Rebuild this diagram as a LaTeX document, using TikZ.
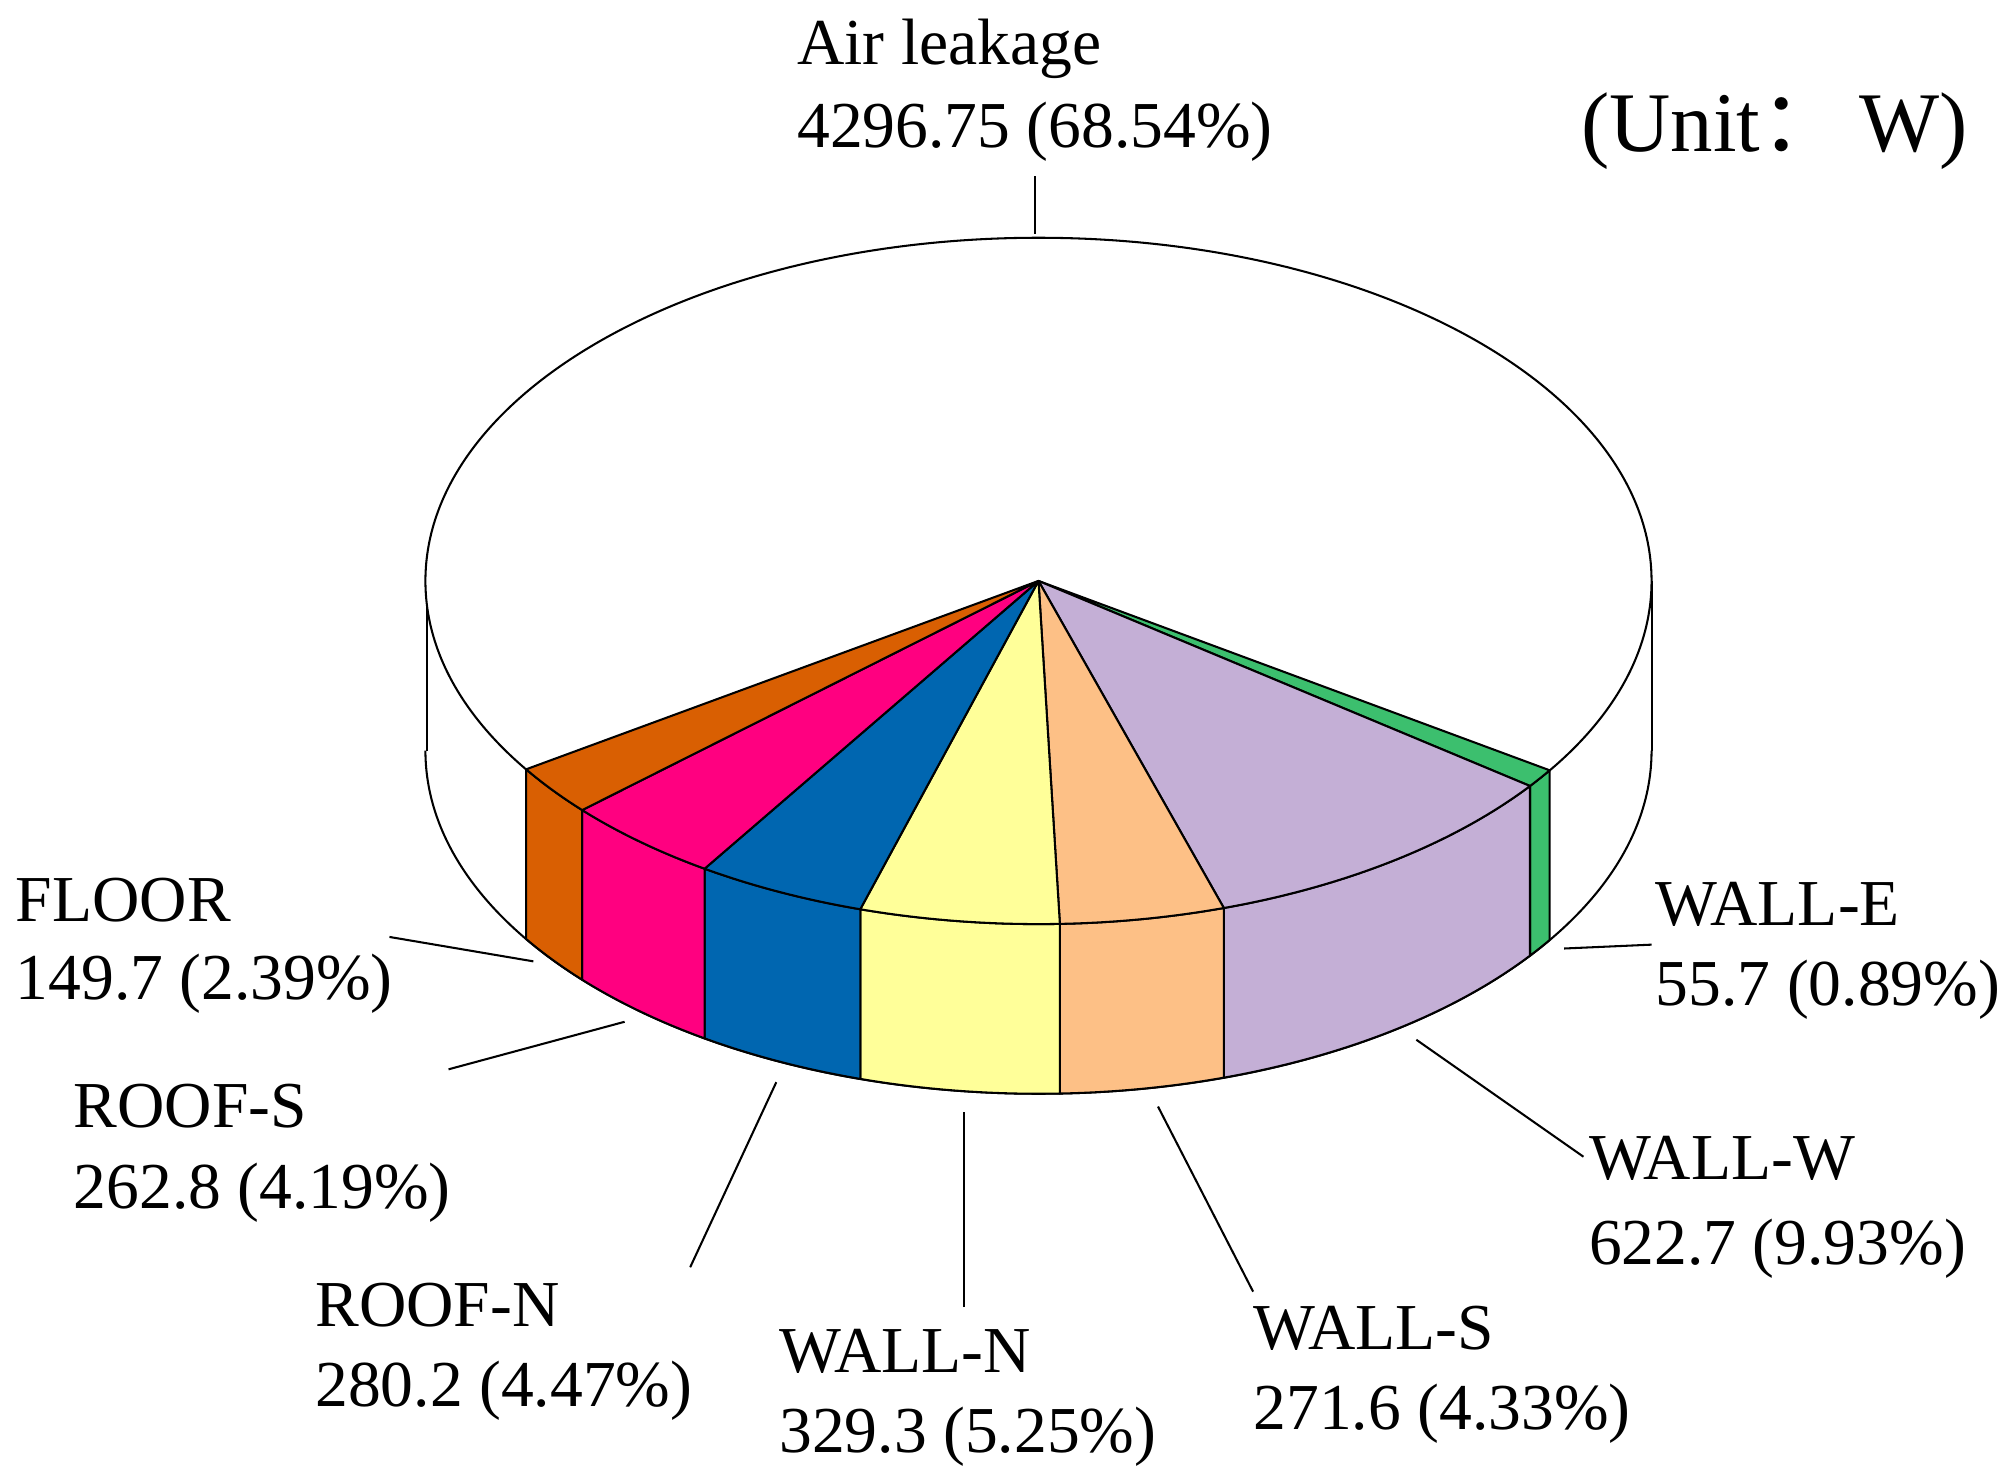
\documentclass[tikz,border=0pt]{standalone}
\usepackage{fontspec}
\setmainfont{Liberation Serif}
\newfontfamily\cjk{Noto Sans CJK SC}
\begin{document}
\begin{tikzpicture}[x=0.5pt,y=0.5pt,
  lab/.style={anchor=base west,inner sep=0pt,font=\fontsize{25.5}{30}\selectfont},
  ln/.style={line width=0.8pt}, edge/.style={line width=0.8pt,line join=round}]
\useasboundingbox (0,0) rectangle (1560,1146);
\definecolor{cfloor}{HTML}{D95F02}
\definecolor{croofs}{HTML}{FF0080}
\definecolor{croofn}{HTML}{0066B0}
\definecolor{cwalln}{HTML}{FFFF99}
\definecolor{cwalls}{HTML}{FDC086}
\definecolor{cwallw}{HTML}{C4AFD6}
\definecolor{cwalle}{HTML}{3CBF6E}
\coordinate (C) at (808,694);
\coordinate (B) at (808,562);
% cylinder body
\draw[edge] (332,694) -- (332,562);
\draw[edge] (1285,694) -- (1285,562);
\draw[edge] (B) ++(180:477 and 267) arc[start angle=180,end angle=360,x radius=477,y radius=267];
\draw[edge,fill=white] (C) ellipse[x radius=477,y radius=267];
\foreach \a/\b/\c in {33.5/36.7/cwalle,36.7/72.4/cwallw,72.4/88.0/cwalls,88.0/106.9/cwalln,106.9/123.0/croofn,123.0/138.1/croofs,138.1/146.7/cfloor}{
  \draw[edge,fill=\c] ([shift={(C)}]-\a:477 and 267) arc[start angle=-\a,end angle=-\b,x radius=477,y radius=267]
    -- ([shift={(B)}]-\b:477 and 267) arc[start angle=-\b,end angle=-\a,x radius=477,y radius=267] -- cycle;
  \draw[edge,fill=\c] (C) -- ([shift={(C)}]-\a:477 and 267) arc[start angle=-\a,end angle=-\b,x radius=477,y radius=267] -- cycle;
}
% labels
\node[lab] (air1) at (620,1096) {Air leakage};
\node[lab] (air2) at (620,1031) {4296.75 (68.54\%)};
\node[lab,font=\fontsize{33}{40}\selectfont] (unit) at (1230,1028) {(Unit{\cjk ：}\,W)};
\node[lab] (fl1) at (12,429) {FLOOR};
\node[lab] (fl2) at (12,368) {149.7 (2.39\%)};
\node[lab] (rs1) at (57,269) {ROOF-S};
\node[lab] (rs2) at (57,206) {262.8 (4.19\%)};
\node[lab] (rn1) at (245,114) {ROOF-N};
\node[lab] (rn2) at (245,52) {280.2 (4.47\%)};
\node[lab] (wn1) at (606,78) {WALL-N};
\node[lab] (wn2) at (606,16) {329.3 (5.25\%)};
\node[lab] (ws1) at (975,96) {WALL-S};
\node[lab] (ws2) at (975,34) {271.6 (4.33\%)};
\node[lab] (ww1) at (1236,228) {WALL-W};
\node[lab] (ww2) at (1236,162) {622.7 (9.93\%)};
\node[lab] (we1) at (1288,426) {WALL-E};
\node[lab] (we2) at (1288,364) {55.7 (0.89\%)};
% leaders
\coordinate (l1a) at (805,1009); \coordinate (l1b) at (805,964);
\coordinate (l2a) at (303,417); \coordinate (l2b) at (415,398);
\coordinate (l3a) at (349,314); \coordinate (l3b) at (486,351);
\coordinate (l4a) at (537,160); \coordinate (l4b) at (604,304);
\coordinate (l5a) at (750,129); \coordinate (l5b) at (750,281);
\coordinate (l6a) at (975,141); \coordinate (l6b) at (901,285);
\coordinate (l7a) at (1232,246); \coordinate (l7b) at (1102,337);
\coordinate (l8a) at (1217,408); \coordinate (l8b) at (1285,411);
\foreach \i in {1,...,8} \draw[ln] (l\i a) -- (l\i b);
\end{tikzpicture}
\end{document}
